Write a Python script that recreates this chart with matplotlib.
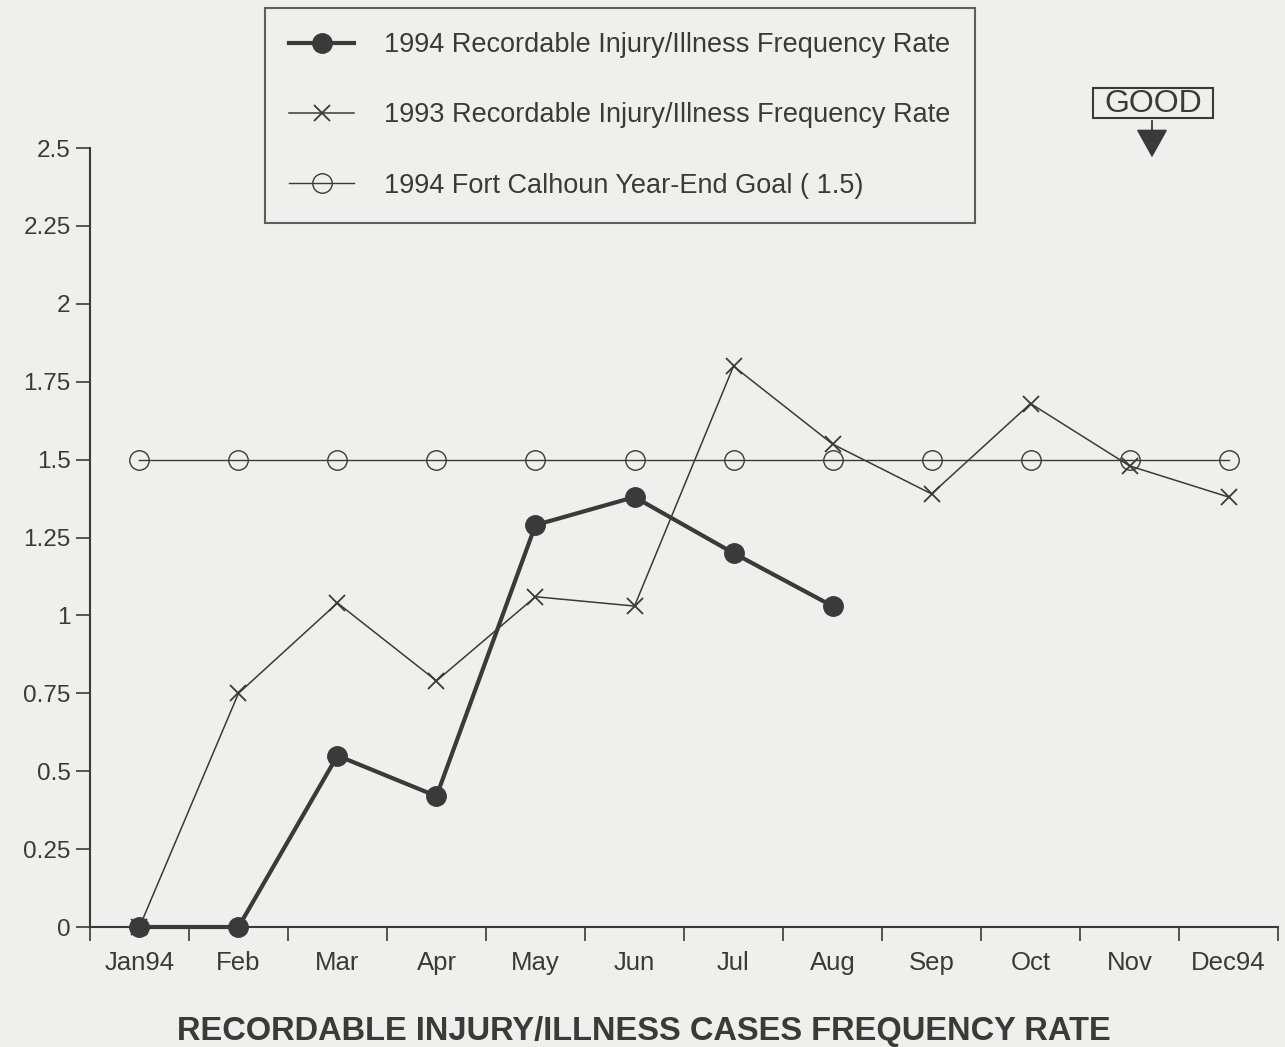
"""
Recordable injury/illness cases frequency rate, 1994 vs 1993 vs goal.
"""

import matplotlib.pyplot as plt
from matplotlib.patches import FancyArrowPatch, Rectangle

# Data
months = ['Jan94', 'Feb', 'Mar', 'Apr', 'May', 'Jun',
          'Jul', 'Aug', 'Sep', 'Oct', 'Nov', 'Dec94']
rate_1994 = [0.0, 0.0, 0.55, 0.42, 1.29, 1.38, 1.20, 1.03]
rate_1993 = [0.0, 0.75, 1.04, 0.79, 1.06, 1.03, 1.80, 1.55, 1.39, 1.68, 1.48, 1.38]
goal_1994 = [1.5] * 12
y_ticks = [0, 0.25, 0.5, 0.75, 1, 1.25, 1.5, 1.75, 2, 2.25, 2.5]
y_labels = ['0', '0.25', '0.5', '0.75', '1', '1.25', '1.5', '1.75', '2', '2.25', '2.5']

plt.rcParams['font.family'] = ['Liberation Sans', 'DejaVu Sans']
ink = '#3a3a3a'
bg = '#efefed'

fig = plt.figure(figsize=(12.85, 10.47), dpi=100, facecolor=bg)
ax = fig.add_axes([0.070, 0.1146, 0.9246, 0.744])
ax.set_facecolor(bg)

x = list(range(len(months)))

ax.plot(x, goal_1994, color=ink, lw=1.0, marker='o', ms=14,
        mfc='none', mec=ink, mew=1.0, clip_on=False,
        label='1994 Fort Calhoun Year-End Goal ( 1.5)')
ax.plot(x, rate_1993, color=ink, lw=1.1, marker='x', ms=12,
        mew=1.3, clip_on=False,
        label='1993 Recordable Injury/Illness Frequency Rate')
ax.plot(x[:len(rate_1994)], rate_1994, color=ink, lw=3.0, marker='o', ms=14,
        mfc=ink, mec=ink, clip_on=False, zorder=5,
        label='1994 Recordable Injury/Illness Frequency Rate')

# Axes styling
ax.set_xlim(-0.5, 11.5)
ax.set_ylim(0, 2.5)
ax.set_yticks(y_ticks)
ax.set_yticklabels(y_labels)
ax.set_xticks(x)
ax.set_xticklabels(months)
ax.set_xticks([i - 0.5 for i in range(13)], minor=True)
ax.tick_params(axis='x', which='major', length=0, pad=17, labelsize=18.5, colors=ink)
ax.tick_params(axis='x', which='minor', length=10, width=1.2, color=ink)
ax.tick_params(axis='y', length=10, width=1.2, pad=4, labelsize=17.5, colors=ink)
for side in ['top', 'right']:
    ax.spines[side].set_visible(False)
for side in ['left', 'bottom']:
    ax.spines[side].set_color(ink)
    ax.spines[side].set_linewidth(1.5)

# Legend
handles, labels = ax.get_legend_handles_labels()
order = [2, 1, 0]
leg = fig.legend([handles[i] for i in order], [labels[i] for i in order],
                 loc='upper left', bbox_to_anchor=(0.2062, 0.9924),
                 fontsize=19.5, frameon=True, fancybox=False,
                 edgecolor=ink, facecolor=bg, labelcolor=ink,
                 handlelength=2.4, handletextpad=1.1, labelspacing=1.63,
                 borderpad=0.9, borderaxespad=0)
leg.get_frame().set_linewidth(1.5)

# GOOD indicator
fig.patches.append(Rectangle((0.8506, 0.8873), 0.0934, 0.0286, transform=fig.transFigure,
                             fc=bg, ec=ink, lw=1.5))
fig.text(0.8973, 0.9010, 'GOOD', ha='center', va='center', fontsize=23, color=ink)
arrow = FancyArrowPatch((0.8965, 0.8873), (0.8965, 0.847), transform=fig.transFigure,
                        arrowstyle='-|>,head_length=0.9,head_width=0.5',
                        mutation_scale=20, color=ink, lw=1.3)
fig.patches.append(arrow)

# Title at bottom
fig.text(0.501, 0.0067, 'RECORDABLE INJURY/ILLNESS CASES FREQUENCY RATE',
         ha='center', va='baseline', fontsize=23.5, fontweight='bold', color=ink,
         family=['Liberation Sans Narrow', 'Liberation Sans', 'DejaVu Sans'])

fig.savefig('out.png', dpi=100, facecolor=bg)
